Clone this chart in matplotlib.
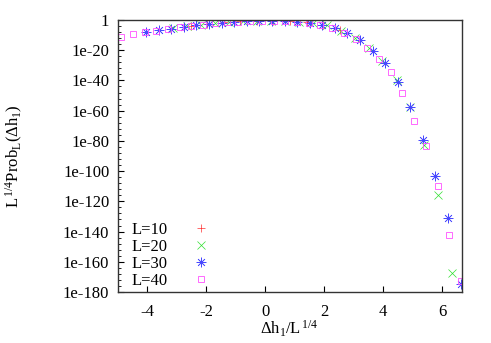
import numpy as np
import matplotlib
matplotlib.use("Agg")
import matplotlib.pyplot as plt
from matplotlib.ticker import FixedLocator, NullFormatter

plt.rcParams['font.family'] = ['Liberation Serif', 'DejaVu Serif']
plt.rcParams['mathtext.fontset'] = 'custom'
plt.rcParams['mathtext.rm'] = 'Liberation Serif'
plt.rcParams['mathtext.it'] = 'Liberation Serif:italic'
plt.rcParams['axes.unicode_minus'] = False

# x = dh / L^(1/4), y stored as log10 of L^(1/4) Prob_L
x10 = [-2.53, -1.97, -1.41, -0.84, -0.28, 0.28, 0.84, 1.41, 1.97, 2.53]
y10 = [-3.8, -2.6, -1.6, -0.9, -0.4, -0.4, -0.8, -1.6, -3.2, -6.5]

x20 = [-3.11, -2.64, -2.16, -1.69, -1.22, -0.74, -0.27, 0.20, 0.67, 1.15, 1.62,
       2.09, 2.57, 3.04, 3.51, 3.98, 4.46, 4.93, 5.40, 5.88, 6.35]
y20 = [-5.6, -4.3, -3.2, -2.2, -1.4, -0.8, -0.45, -0.4, -0.65, -1.2, -2.1,
       -3.6, -7.0, -11.8, -18.5, -27.0, -40.0, -57.4, -82.7, -115.8, -167.6]

x30 = [-4.04, -3.61, -3.18, -2.76, -2.33, -1.90, -1.47, -1.05, -0.62, -0.19, 0.23,
       0.66, 1.09, 1.51, 1.94, 2.37, 2.79, 3.22, 3.65, 4.07, 4.50, 4.93, 5.36,
       5.78, 6.21, 6.64]
y30 = [-8.1, -6.9, -6.0, -4.5, -3.6, -2.7, -1.9, -1.2, -0.7, -0.4, -0.4,
       -0.7, -1.1, -1.9, -3.2, -5.0, -8.8, -13.2, -20.3, -28.2, -40.8, -57.4, -79.4,
       -103.0, -131.0, -175.0]

x40 = [-4.88, -4.49, -4.09, -3.69, -3.29, -2.89, -2.50, -2.10, -1.70, -1.30, -0.91,
       -0.51, -0.11, 0.29, 0.69, 1.08, 1.48, 1.88, 2.28, 2.67, 3.07, 3.47, 3.87,
       4.26, 4.66, 5.06, 5.46, 5.86, 6.25, 6.65]
y40 = [-11.4, -9.3, -8.2, -7.1, -6.0, -4.9, -3.9, -3.0, -2.2, -1.5, -1.0,
       -0.6, -0.4, -0.4, -0.7, -1.1, -1.8, -3.0, -5.2, -8.8, -12.3, -18.7, -25.8,
       -34.2, -48.5, -66.8, -83.6, -110.0, -142.0, -173.0]

ytick_exp = list(range(0, -181, -20))
ytick_labels = ['1'] + ['1e%d' % e for e in ytick_exp[1:]]

fig = plt.figure(figsize=(4.91, 3.43), dpi=100)
ax = fig.add_axes([0.2397, 0.1487, 0.7006, 0.793])

ax.plot(x10, 10.0 ** np.array(y10), ls='none', marker='+', ms=6, mew=0.5,
        color='#ff3030', label='L=10')
ax.plot(x20, 10.0 ** np.array(y20), ls='none', marker='x', ms=5.5, mew=0.5,
        color='#30e030', label='L=20')
ax.plot(x30, 10.0 ** np.array(y30), ls='none', marker=(8, 2, 0), ms=7, mew=0.5,
        color='#4848ff', label='L=30')
ax.plot(x40, 10.0 ** np.array(y40), ls='none', marker='s', ms=4.5, mew=0.6,
        mfc='none', color='#ff50ff', label='L=40')

ax.set_yscale('log')
ax.set_ylim(1e-180, 1)
ax.set_xlim(-5, 6.67)
ax.yaxis.set_major_locator(FixedLocator([10.0 ** e for e in ytick_exp]))
ax.set_yticklabels(ytick_labels)
ax.yaxis.set_minor_locator(FixedLocator([10.0 ** -e for e in range(0, 181, 4) if e % 20]))
ax.yaxis.set_minor_formatter(NullFormatter())
ax.set_xticks([-4, -2, 0, 2, 4, 6])
ax.set_xticklabels(['-4', '-2', '0', '2', '4', '6'])

ax.tick_params(which='both', direction='in', labelsize=12, top=False, right=False)
ax.tick_params(which='major', length=4, width=0.8)
ax.tick_params(axis='x', which='major', pad=9)
ax.tick_params(axis='y', which='major', pad=6)
ax.tick_params(which='minor', length=2, width=0.6)
for s in ax.spines.values():
    s.set_linewidth(1.0)
    s.set_color('#333333')

ax.set_xlabel(r'$\Delta\mathrm{h}_1\mathrm{/L}^{\,1/4}$', fontsize=12)
ax.set_ylabel(r'$\mathrm{L}^{\,1/4}\mathrm{Prob}_\mathrm{L}(\Delta\mathrm{h}_1)$', fontsize=12)
ax.yaxis.set_label_coords(-0.27, 0.5)
ax.xaxis.set_label_coords(0.5, -0.1)

ax.legend(loc='lower left', bbox_to_anchor=(0.03, 0.0), frameon=False,
          markerfirst=False, numpoints=1, fontsize=12, handlelength=2,
          handletextpad=1.0, labelspacing=0.05, borderpad=0.2, borderaxespad=0)

fig.savefig('out.png', dpi=100)
